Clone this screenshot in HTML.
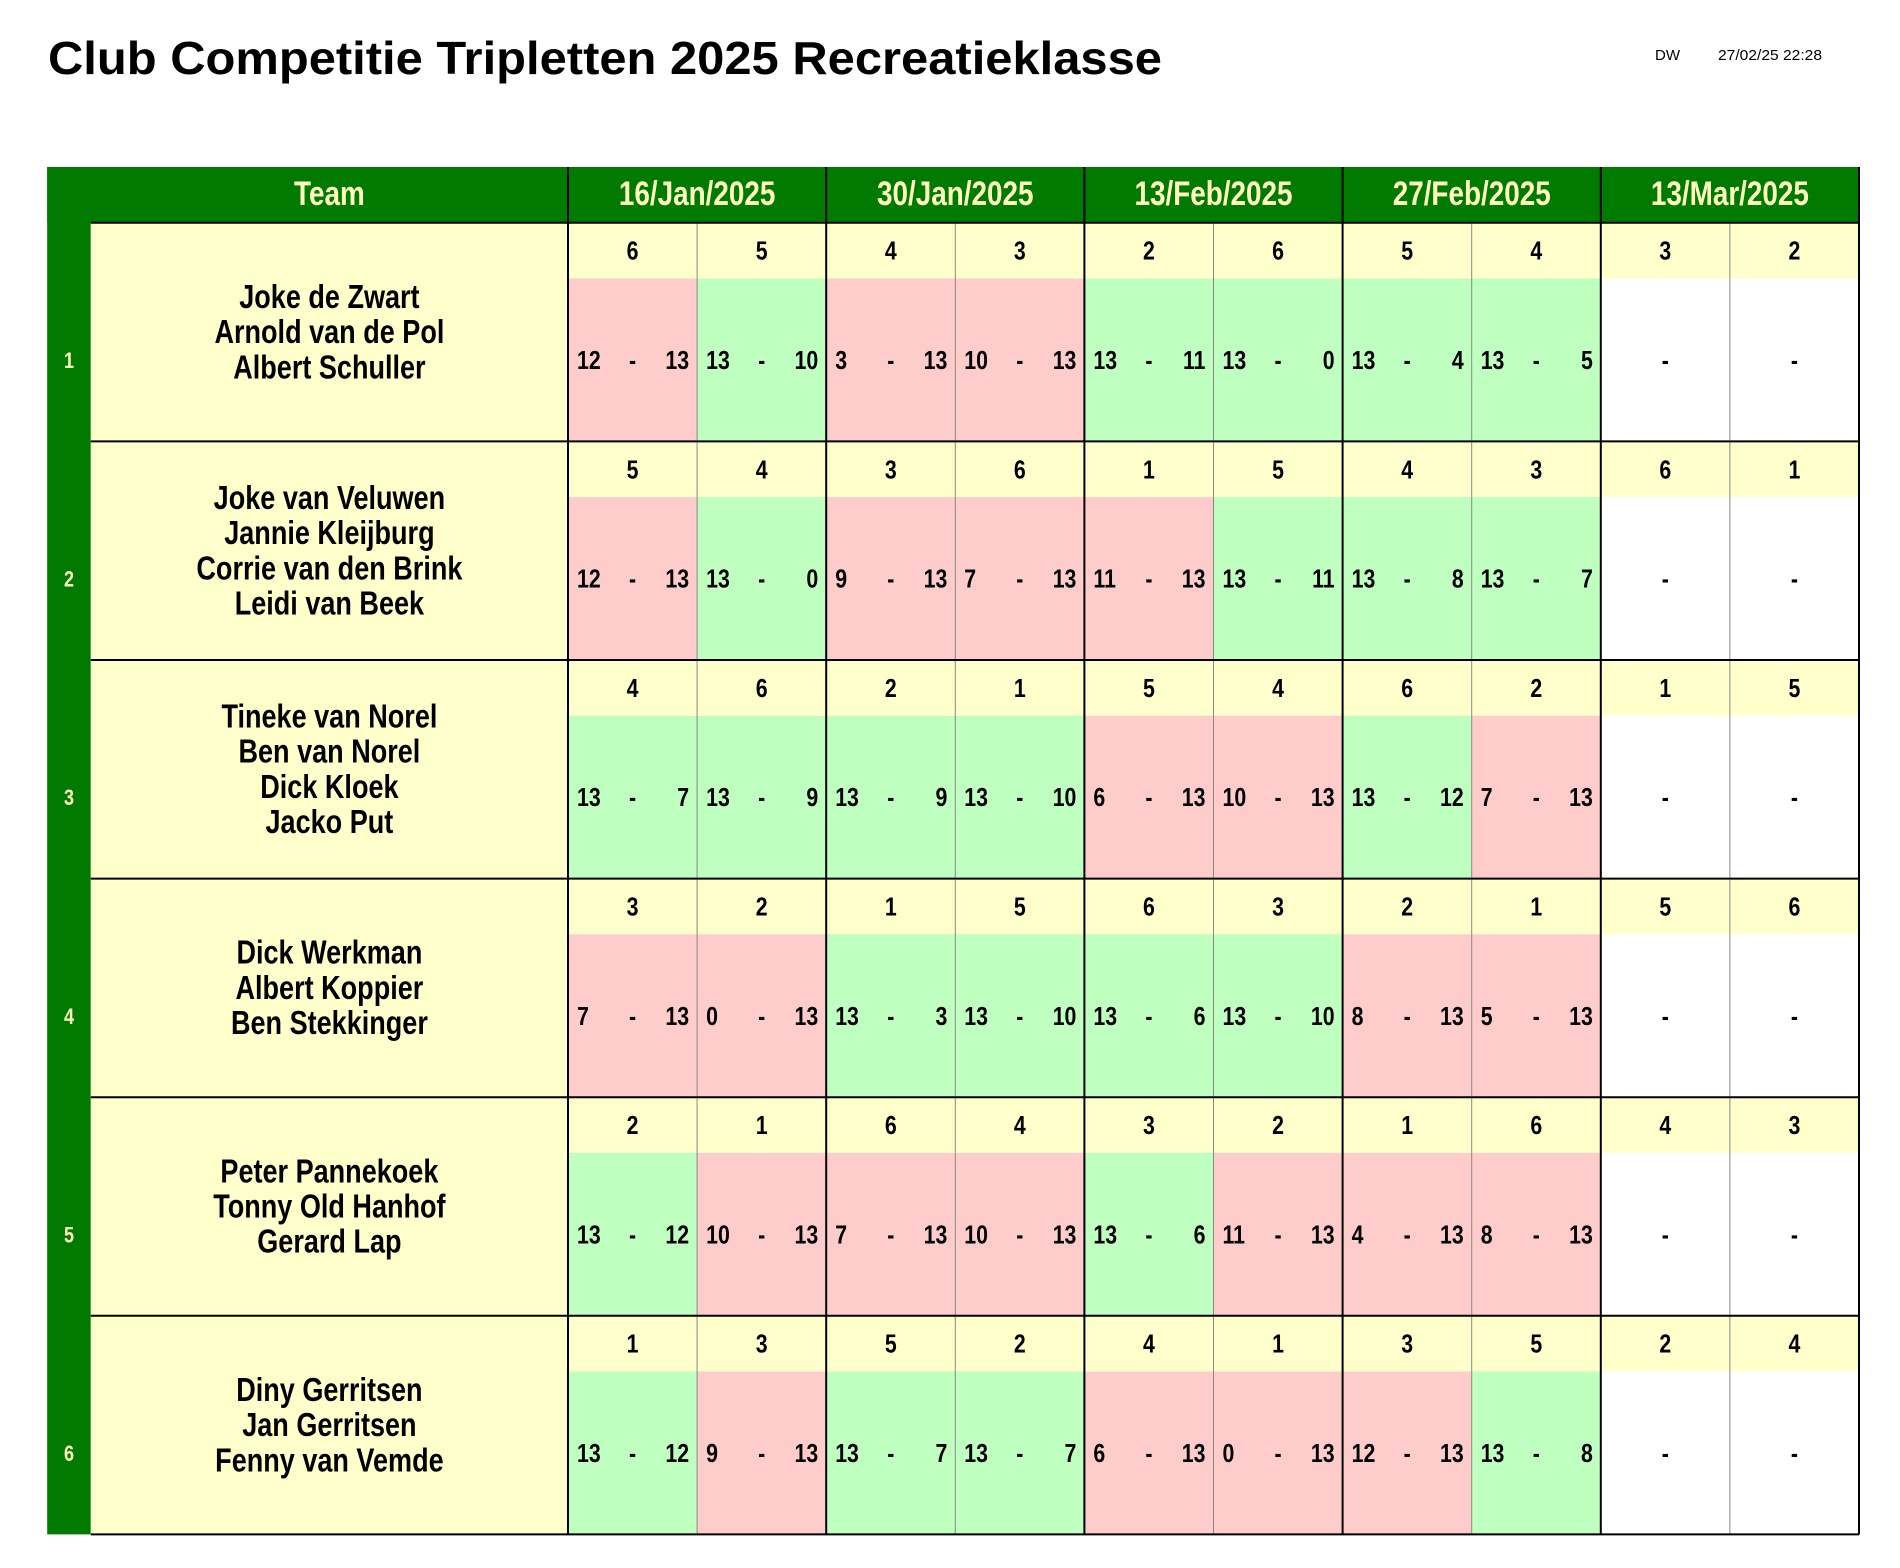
<!DOCTYPE html>
<html><head><meta charset="utf-8"><style>
html,body{margin:0;padding:0;background:#fff;}
svg{display:block;}
text{font-family:"Liberation Sans Narrow","Liberation Sans",sans-serif;font-weight:bold;}
</style></head><body>
<svg id="sheet" width="1900" height="1568" viewBox="0 0 1900 1568" xmlns="http://www.w3.org/2000/svg">
<text x="48" y="74" font-size="46" textLength="1114" lengthAdjust="spacingAndGlyphs" style="font-family:'Liberation Sans',sans-serif;font-weight:bold">Club Competitie Tripletten 2025 Recreatieklasse</text>
<text x="1655" y="60" font-size="15" textLength="25" lengthAdjust="spacingAndGlyphs" style="font-weight:normal">DW</text>
<text x="1718" y="60" font-size="15" textLength="104" lengthAdjust="spacingAndGlyphs" style="font-weight:normal">27/02/25 22:28</text>
</svg>
<script>
const dates = ["16/Jan/2025","30/Jan/2025","13/Feb/2025","27/Feb/2025","13/Mar/2025"];
const teamNames = [
 ["Joke de Zwart","Arnold van de Pol","Albert Schuller"],
 ["Joke van Veluwen","Jannie Kleijburg","Corrie van den Brink","Leidi van Beek"],
 ["Tineke van Norel","Ben van Norel","Dick Kloek","Jacko Put"],
 ["Dick Werkman","Albert Koppier","Ben Stekkinger"],
 ["Peter Pannekoek","Tonny Old Hanhof","Gerard Lap"],
 ["Diny Gerritsen","Jan Gerritsen","Fenny van Vemde"]
];
const opponents = [
 [6,5,4,3,2,6,5,4,3,2],
 [5,4,3,6,1,5,4,3,6,1],
 [4,6,2,1,5,4,6,2,1,5],
 [3,2,1,5,6,3,2,1,5,6],
 [2,1,6,4,3,2,1,6,4,3],
 [1,3,5,2,4,1,3,5,2,4]
];
const scoresFor = [
 [12,13,3,10,13,13,13,13,null,null],
 [12,13,9,7,11,13,13,13,null,null],
 [13,13,13,13,6,10,13,7,null,null],
 [7,0,13,13,13,13,8,5,null,null],
 [13,10,7,10,13,11,4,8,null,null],
 [13,9,13,13,6,0,12,13,null,null]
];
const scoresAgainst = [
 [13,10,13,13,11,0,4,5,null,null],
 [13,0,13,13,13,11,8,7,null,null],
 [7,9,9,10,13,13,12,13,null,null],
 [13,13,3,10,6,10,13,13,null,null],
 [12,13,13,13,6,13,13,13,null,null],
 [12,13,7,7,13,13,13,8,null,null]
];

const svg = document.getElementById('sheet');
const NS = 'http://www.w3.org/2000/svg';
const SX = 0.82;
function mk(tag, attrs, txt){const e=document.createElementNS(NS,tag);for(const k in attrs)e.setAttribute(k,attrs[k]);if(txt!==undefined)e.textContent=txt;svg.appendChild(e);return e;}
function txt(x,y,size,fill,anchor,s){
  return mk('text',{x:0,y:0,transform:`translate(${x},${y}) scale(${SX},1)`,'font-size':size,fill:fill,'text-anchor':anchor},s);
}

const barL=47.2, barR=90.8, teamR=568, tableR=1859;
const headT=167, headB=222.8, rowH=218.6, oppH=55.7;
const nSub = opponents[0].length;
const subW = (tableR-teamR)/nSub;
function subX(j){return teamR + j*subW;}
function rowY(i){return headB + i*rowH;}

let e;
e = mk('rect',{x:barL,y:headT,width:tableR-barL,height:headB-headT,fill:'#007a00'});
 
e = mk('rect',{x:barL,y:headT,width:barR-barL,height:rowY(teamNames.length)-headT,fill:'#007a00'});
 
e = txt((barR+teamR)/2,205,34,'#ffffc0','middle','Team');
 
dates.forEach((d,k)=>{
  const x0=subX(2*k), x1=subX(2*k+2);
  const t = txt((x0+x1)/2,205,34,'#ffffc0','middle',d);
   
});

teamNames.forEach((names,i)=>{
  const y0=rowY(i);
  const tc = mk('rect',{x:barR,y:y0,width:teamR-barR,height:rowH,fill:'#ffffcc'});
   
  const cy=y0+rowH/2, lh=35.2;
  names.forEach((n,m)=>{
    const ty = cy + (m-(names.length-1)/2)*lh + 11;
    const t = txt((barR+teamR)/2,ty,33,'#000','middle',n);
     
  });
  const rn = txt((barL+barR)/2,y0+oppH+(rowH-oppH)/2+8,22,'#ffffc0','middle',String(i+1));
   
  for(let j=0;j<nSub;j++){
    const x0=subX(j);
    const oc = mk('rect',{x:x0,y:y0,width:subW,height:oppH,fill:'#ffffcc'});
     
    const ot = txt(x0+subW/2,y0+oppH/2+9,26,'#000','middle',String(opponents[i][j]));
     
    const a=scoresFor[i][j], b=scoresAgainst[i][j];
    const fill = a===null ? '#ffffff' : (a>b ? '#bfffbf' : '#ffcccc');
    const sc = mk('rect',{x:x0,y:y0+oppH,width:subW,height:rowH-oppH,fill:fill});
     
    const sy = y0+oppH+(rowH-oppH)/2+9;
    const dash = txt(x0+subW/2,sy,26,'#000','middle','-');
     
    if(a!==null){
      const l = txt(x0+9,sy,26,'#000','start',String(a));
       
      const r = txt(x0+subW-8,sy,26,'#000','end',String(b));
       
    }
  }
});

const bottom = rowY(teamNames.length);
for(let j=1;j<nSub;j+=2){
  mk('line',{x1:subX(j),y1:headB,x2:subX(j),y2:bottom,stroke:'#888',"stroke-width":1});
}
for(let k=0;k<=dates.length;k++){
  const x=subX(2*k);
  mk('line',{x1:x,y1:headT,x2:x,y2:bottom,stroke:'#000',"stroke-width":2});
}
for(let i=0;i<=teamNames.length;i++){
  mk('line',{x1:barR,y1:rowY(i),x2:tableR,y2:rowY(i),stroke:'#000',"stroke-width":2});
}
</script>
</body></html>
